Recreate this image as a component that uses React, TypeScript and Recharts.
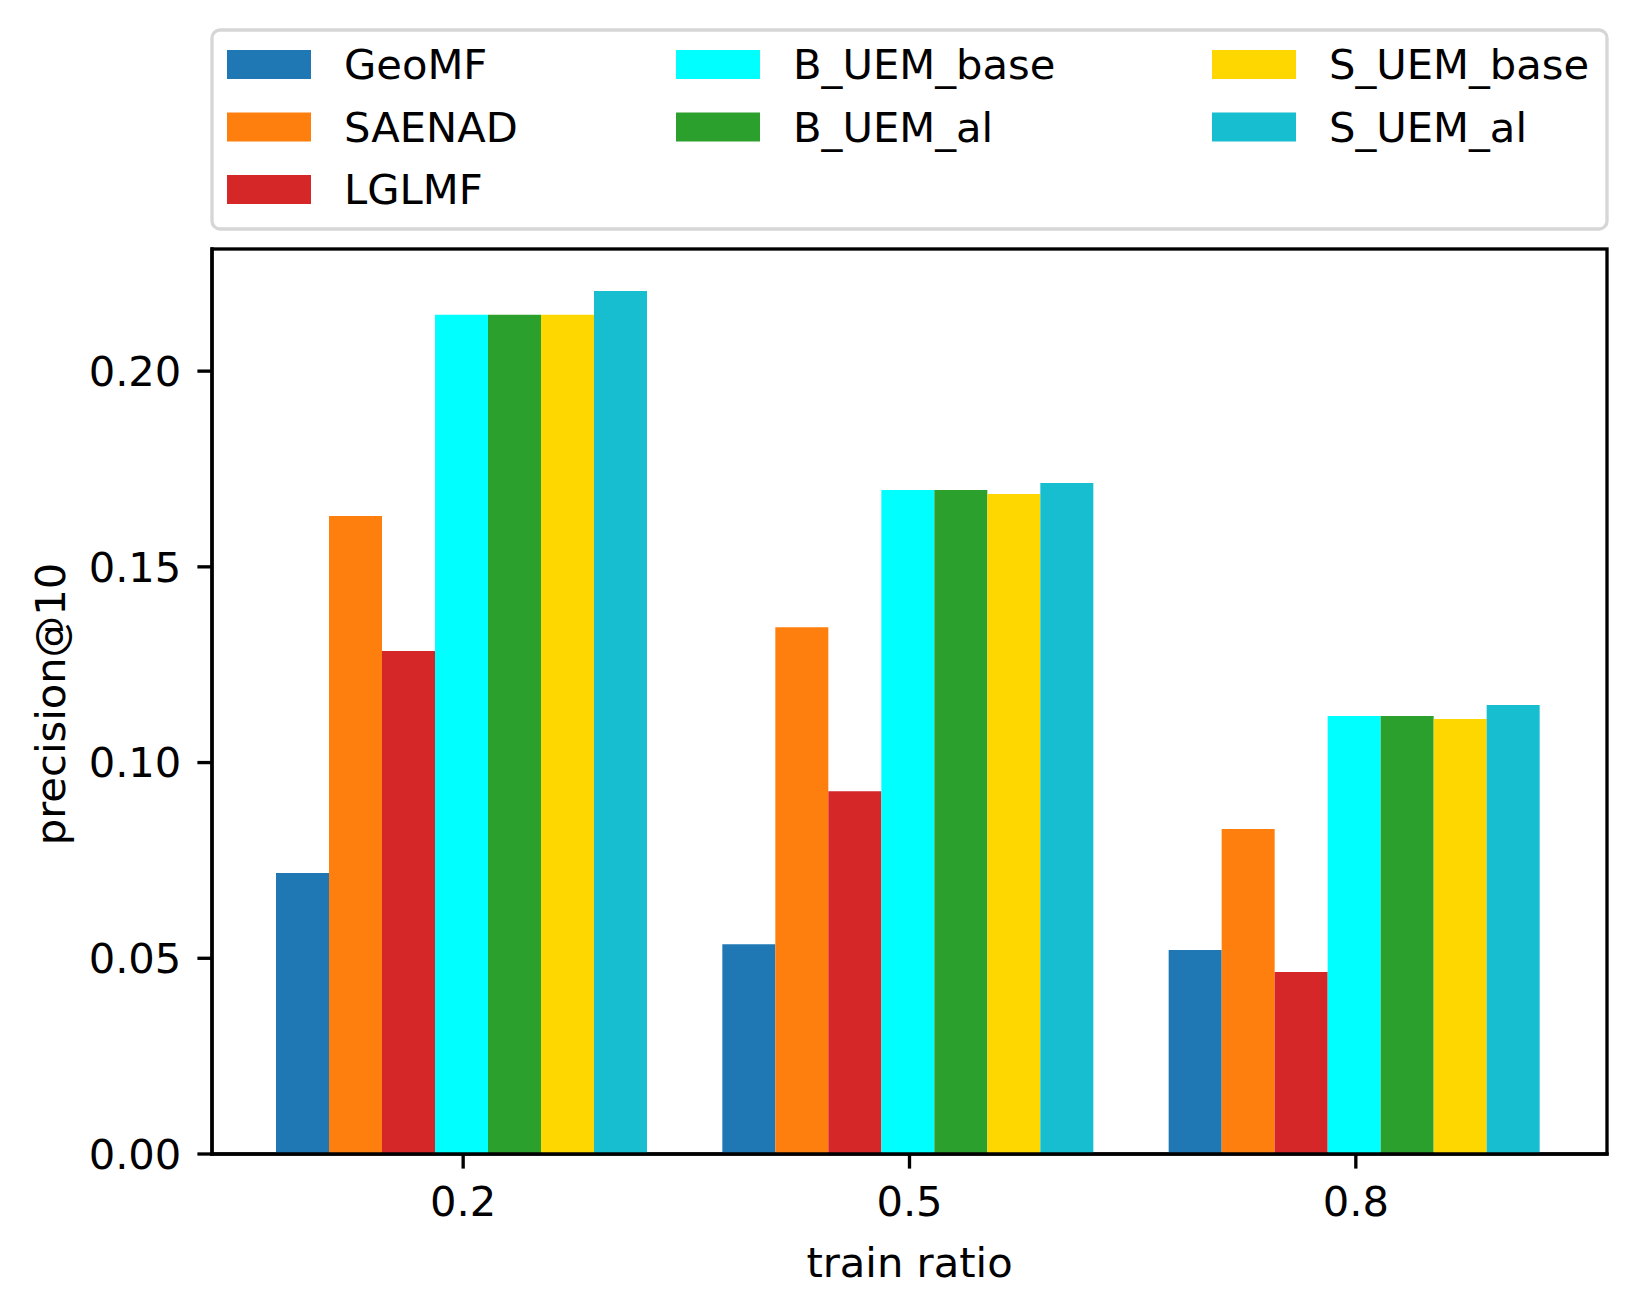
import React from 'react';
import * as R from 'recharts';
import { BarChart, Bar, XAxis, YAxis } from 'recharts';

// ---- data ----
const categories = ['0.2', '0.5', '0.8'];
const seriesNames = ['GeoMF', 'SAENAD', 'LGLMF', 'B_UEM_base', 'B_UEM_al', 'S_UEM_base', 'S_UEM_al'];
const geoMF = [0.0718, 0.0536, 0.0521];
const saenad = [0.163, 0.1346, 0.083];
const lglmf = [0.1285, 0.0927, 0.0465];
const bUemBase = [0.2144, 0.1696, 0.1119];
const bUemAl = [0.2144, 0.1696, 0.1119];
const sUemBase = [0.2144, 0.1686, 0.1111];
const sUemAl = [0.2205, 0.1714, 0.1147];
const yTicks = [0, 0.05, 0.1, 0.15, 0.2];
const yDomainMax = 0.2312;

const seriesValues = [geoMF, saenad, lglmf, bUemBase, bUemAl, sUemBase, sUemAl];

// ---- styles ----
const colors: Record<string, string> = {
  GeoMF: '#1f77b4',
  SAENAD: '#ff7f0e',
  LGLMF: '#d62728',
  B_UEM_base: '#00ffff',
  B_UEM_al: '#2ca02c',
  S_UEM_base: '#ffd700',
  S_UEM_al: '#17becf',
};

const FONT = '"DejaVu Sans", sans-serif';
const FS = 41.67;
const LW = 3.33;
const TICK = 14.6;

const MARGIN = { top: 249, right: 28, left: 0, bottom: 0 };
const Y_AXIS_W = 212;
const X_AXIS_H = 160;
const W = 1635;
const H = 1314;

const data = categories.map((c, i) => {
  const row: Record<string, string | number> = { ratio: c };
  seriesNames.forEach((n, k) => {
    row[n] = seriesValues[k][i];
  });
  return row;
});

// legend columns, filled column-wise like matplotlib (3,2,2)
const legendColumns = [
  [0, 1, 2],
  [3, 4],
  [5, 6],
];
const legendPatchX = [227, 676, 1212];
const legendTextGap = 117;
const legendBaselines = [79, 141.5, 204];

function LegendBox() {
  return (
    <svg
      width={W}
      height={240}
      style={{ position: 'absolute', left: 0, top: 0, pointerEvents: 'none' }}
    >
      <rect x={212} y={30} width={1395} height={199} rx={8} ry={8} fill="#ffffff" fillOpacity={0.8} stroke="#d6d6d6" strokeWidth={LW} />
      {legendColumns.map((col, ci) =>
        col.map((idx, ri) => {
          const name = seriesNames[idx];
          const base = legendBaselines[ri];
          return (
            <g key={name}>
              <rect x={legendPatchX[ci]} y={base - 29} width={84} height={29} fill={colors[name]} />
              <text
                x={legendPatchX[ci] + legendTextGap}
                y={base}
                fontFamily={FONT}
                fontSize={FS}
                fill="#000"
              >
                {name}
              </text>
            </g>
          );
        })
      )}
    </svg>
  );
}

const usePA: () => any = (R as any).usePlotArea ?? (() => null);

function Frame() {
  const pa = usePA();
  const x = pa ? pa.x : Y_AXIS_W + MARGIN.left;
  const y = pa ? pa.y : MARGIN.top;
  const w = pa ? pa.width : W - MARGIN.right - x;
  const h = pa ? pa.height : H - X_AXIS_H - y;
  return <rect x={x} y={y} width={w} height={h} fill="none" stroke="#000" strokeWidth={LW} />;
}

const tickStyle = { fill: '#000', fontSize: FS, fontFamily: FONT };
const lineStyle = { stroke: '#000', strokeWidth: LW, strokeLinecap: 'square' as const };

export default function App() {
  return (
    <div style={{ position: 'absolute', left: 0, top: 0, width: W, height: H, background: '#fff' }}>
      <BarChart
        width={W}
        height={H}
        data={data}
        margin={MARGIN}
        barCategoryGap={36}
        barGap={0}
      >
        <XAxis
          dataKey="ratio"
          type="category"
          height={X_AXIS_H}
          padding={{ left: 28, right: 28 }}
          interval={0}
          tickSize={TICK}
          tickMargin={18}
          tick={tickStyle}
          tickLine={{ stroke: '#000', strokeWidth: LW }}
          axisLine={lineStyle}
          label={{
            content: () => (
              <text x={909.5} y={1277} textAnchor="middle" fontFamily={FONT} fontSize={FS} fill="#000">
                train ratio
              </text>
            ),
          }}
        />
        <YAxis
          type="number"
          domain={[0, yDomainMax]}
          ticks={yTicks}
          allowDataOverflow
          width={Y_AXIS_W}
          tickSize={TICK}
          tickMargin={16}
          tick={tickStyle}
          tickFormatter={(v: number) => v.toFixed(2)}
          tickLine={{ stroke: '#000', strokeWidth: LW }}
          axisLine={lineStyle}
          label={{
            content: () => (
              <text
                x={0}
                y={0}
                transform="translate(65,704) rotate(-90)"
                textAnchor="middle"
                fontFamily={FONT}
                fontSize={FS}
                fill="#000"
              >
                precision@10
              </text>
            ),
          }}
        />
        {seriesNames.map((n) => (
          <Bar key={n} dataKey={n} name={n} fill={colors[n]} isAnimationActive={false} />
        ))}
        <Frame />
      </BarChart>
      <LegendBox />
    </div>
  );
}
